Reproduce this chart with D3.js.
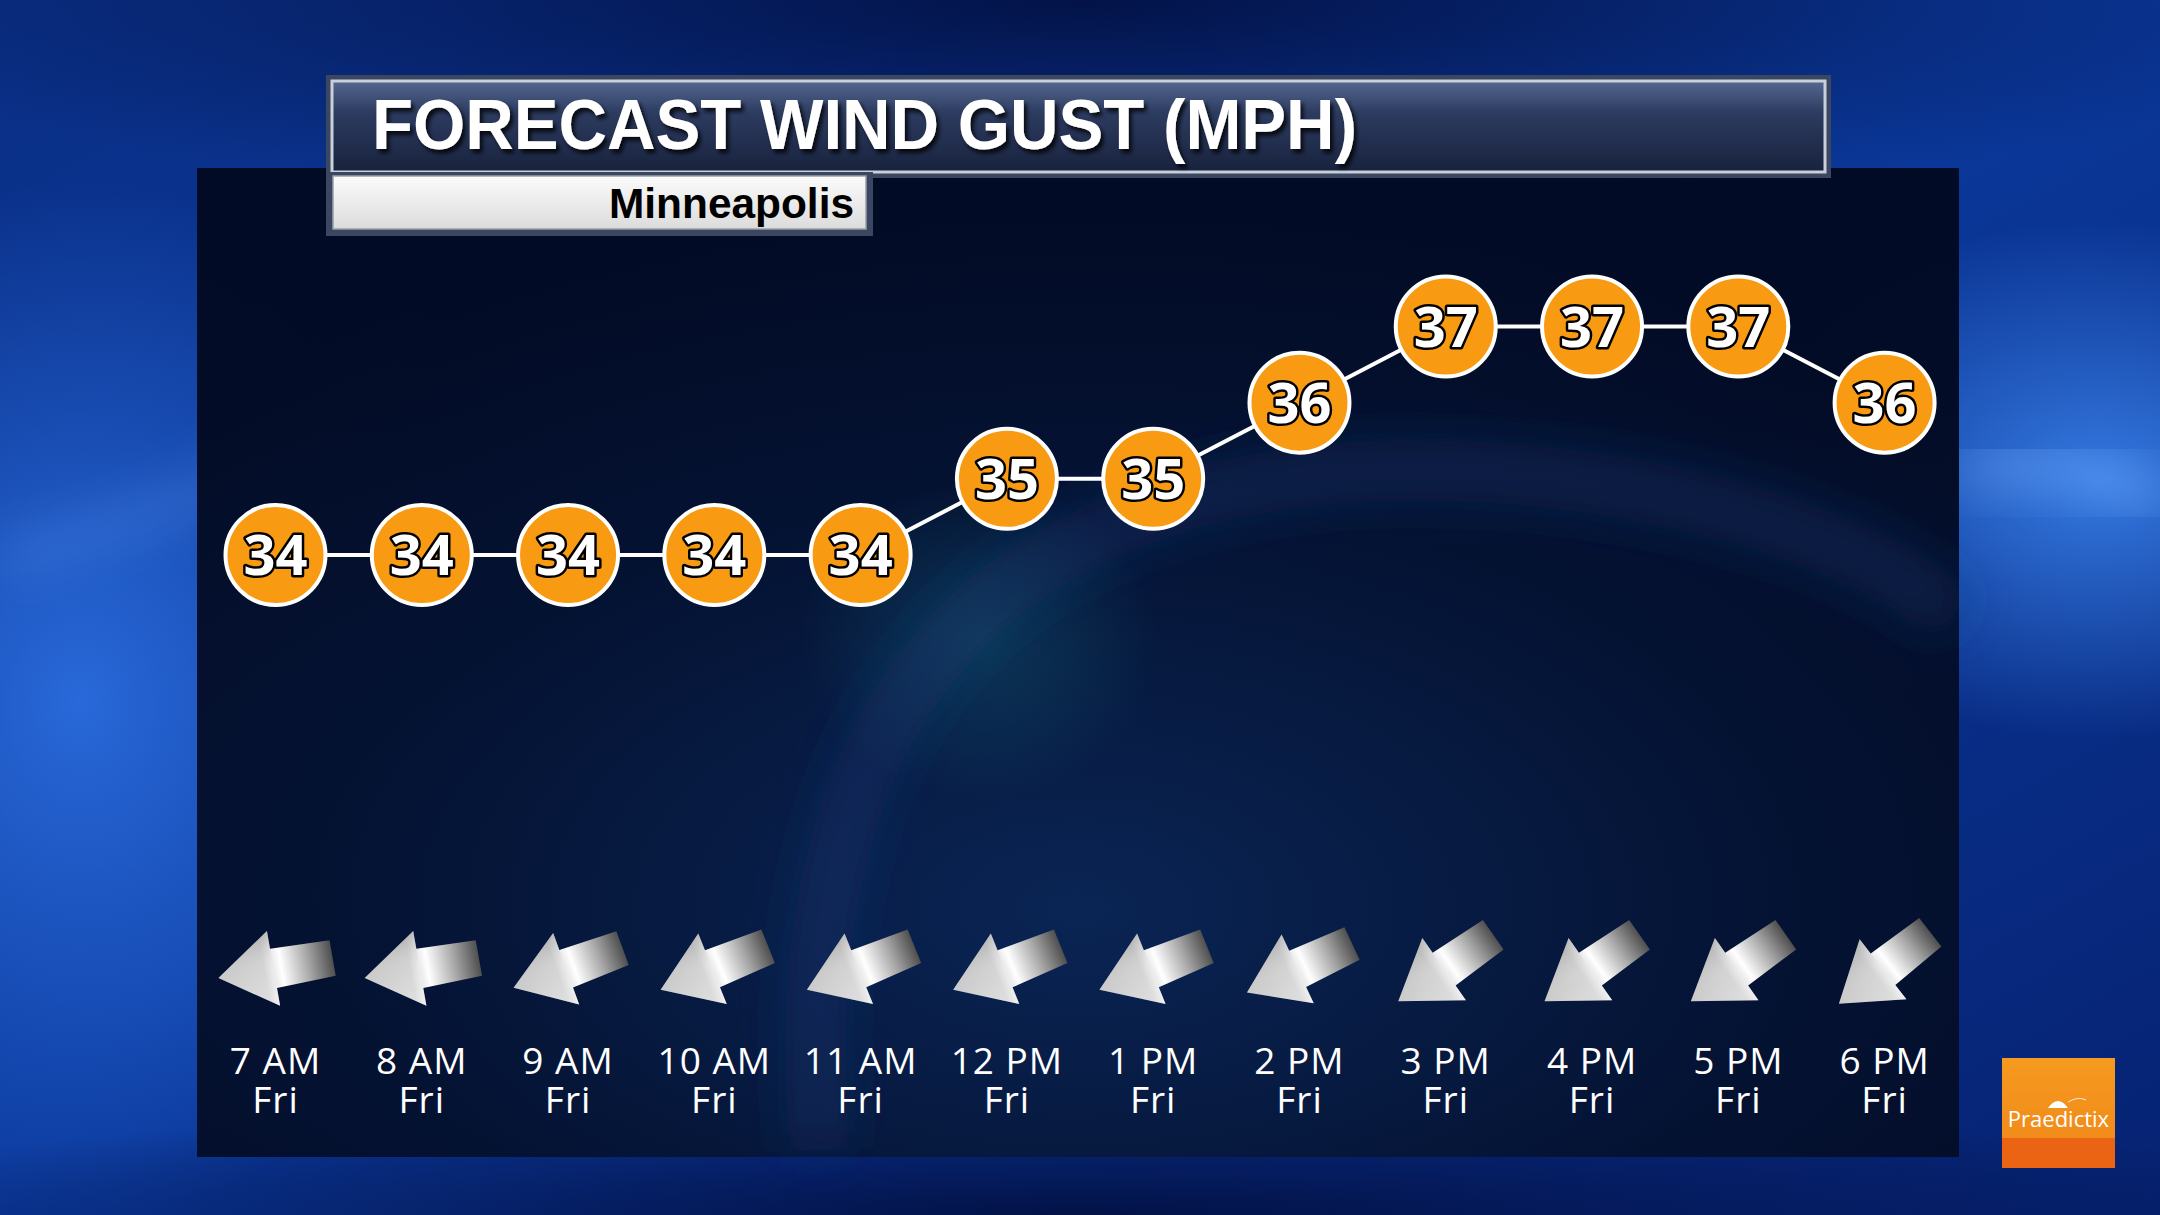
<!DOCTYPE html>
<html>
<head>
<meta charset="utf-8">
<script src="https://cdn.jsdelivr.net/npm/d3@7"></script>
<style>
  html, body { margin: 0; padding: 0; background: #06286f; overflow: hidden; }
  svg { display: block; }
</style>
</head>
<body>
<svg class="wind-chart"></svg>
<script>
var titleText = "FORECAST WIND GUST (MPH)";
var placeName = "Minneapolis";
var hours = ["7 AM", "8 AM", "9 AM", "10 AM", "11 AM", "12 PM", "1 PM", "2 PM", "3 PM", "4 PM", "5 PM", "6 PM"];
var days = ["Fri", "Fri", "Fri", "Fri", "Fri", "Fri", "Fri", "Fri", "Fri", "Fri", "Fri", "Fri"];
var gusts = [34, 34, 34, 34, 34, 35, 35, 36, 37, 37, 37, 36];
// compass direction the wind blows from (degrees)
var windFrom = [80, 80, 70, 68, 68, 68, 68, 65, 55, 55, 55, 52];

makeWindChart();

function makeWindChart() {
    var width = 2160, height = 1215;
    var panel = {left: 197, top: 168, right: 1959, bottom: 1157};

    var svg = d3.select(".wind-chart")
        .attr("width", width)
        .attr("height", height);

    var defs = svg.append("defs");

    // background gradients
    var bg = defs.append("linearGradient").attr("id", "bgGrad")
        .attr("x1", 0).attr("y1", 0).attr("x2", 1).attr("y2", 1);
    bg.append("stop").attr("offset", "0%").attr("stop-color", "#0a2f86");
    bg.append("stop").attr("offset", "45%").attr("stop-color", "#0b3a9e");
    bg.append("stop").attr("offset", "100%").attr("stop-color", "#062272");

    var glowL = defs.append("radialGradient").attr("id", "glowL");
    glowL.append("stop").attr("offset", "0%").attr("stop-color", "#2c6ee0").attr("stop-opacity", 0.9);
    glowL.append("stop").attr("offset", "100%").attr("stop-color", "#2c6ee0").attr("stop-opacity", 0);

    var glowR = defs.append("radialGradient").attr("id", "glowR");
    glowR.append("stop").attr("offset", "0%").attr("stop-color", "#3d86f0").attr("stop-opacity", 0.85);
    glowR.append("stop").attr("offset", "100%").attr("stop-color", "#3d86f0").attr("stop-opacity", 0);

    var dark = defs.append("radialGradient").attr("id", "darkTop");
    dark.append("stop").attr("offset", "0%").attr("stop-color", "#020f40").attr("stop-opacity", 0.9);
    dark.append("stop").attr("offset", "100%").attr("stop-color", "#020f40").attr("stop-opacity", 0);

    var panelGrad = defs.append("radialGradient").attr("id", "panelGrad")
        .attr("cx", "50%").attr("cy", "75%").attr("r", "70%");
    panelGrad.append("stop").attr("offset", "0%").attr("stop-color", "#0a2452");
    panelGrad.append("stop").attr("offset", "60%").attr("stop-color", "#04112f");
    panelGrad.append("stop").attr("offset", "100%").attr("stop-color", "#020a22");

    var panelGlow = defs.append("radialGradient").attr("id", "panelGlow");
    panelGlow.append("stop").attr("offset", "0%").attr("stop-color", "#10506a").attr("stop-opacity", 0.55);
    panelGlow.append("stop").attr("offset", "100%").attr("stop-color", "#10506a").attr("stop-opacity", 0);

    var titleGrad = defs.append("linearGradient").attr("id", "titleGrad")
        .attr("x1", 0).attr("y1", 0).attr("x2", 0).attr("y2", 1);
    titleGrad.append("stop").attr("offset", "0%").attr("stop-color", "#55688f");
    titleGrad.append("stop").attr("offset", "35%").attr("stop-color", "#2c3b60");
    titleGrad.append("stop").attr("offset", "100%").attr("stop-color", "#18223d");

    var subGrad = defs.append("linearGradient").attr("id", "subGrad")
        .attr("x1", 0).attr("y1", 0).attr("x2", 0).attr("y2", 1);
    subGrad.append("stop").attr("offset", "0%").attr("stop-color", "#fbfbfb");
    subGrad.append("stop").attr("offset", "100%").attr("stop-color", "#dcdcdc");

    // silver shading along the arrow: tail (left) dark, tip (right) light
    var silver = defs.append("linearGradient").attr("id", "silver")
        .attr("x1", 0).attr("y1", 0).attr("x2", 1).attr("y2", 0);
    silver.append("stop").attr("offset", "0%").attr("stop-color", "#4f4f4f");
    silver.append("stop").attr("offset", "22%").attr("stop-color", "#a9a9a9");
    silver.append("stop").attr("offset", "45%").attr("stop-color", "#ffffff");
    silver.append("stop").attr("offset", "60%").attr("stop-color", "#d0d0d0");
    silver.append("stop").attr("offset", "100%").attr("stop-color", "#c4c4c4");

    var headShade = defs.append("linearGradient").attr("id", "headShade")
        .attr("x1", 0).attr("y1", 0).attr("x2", 0).attr("y2", 1);
    headShade.append("stop").attr("offset", "0%").attr("stop-color", "#ffffff").attr("stop-opacity", 0.35);
    headShade.append("stop").attr("offset", "50%").attr("stop-color", "#ffffff").attr("stop-opacity", 0.1);
    headShade.append("stop").attr("offset", "100%").attr("stop-color", "#555555").attr("stop-opacity", 0.3);

    var logoGrad = defs.append("linearGradient").attr("id", "logoGrad")
        .attr("x1", 0).attr("y1", 0).attr("x2", 0).attr("y2", 1);
    logoGrad.append("stop").attr("offset", "0%").attr("stop-color", "#f59a1f");
    logoGrad.append("stop").attr("offset", "100%").attr("stop-color", "#f0861a");

    var blur = defs.append("filter").attr("id", "blur")
        .attr("x", "-50%").attr("y", "-50%").attr("width", "200%").attr("height", "200%");
    blur.append("feGaussianBlur").attr("stdDeviation", 25);

    var shadow = defs.append("filter").attr("id", "shadow")
        .attr("x", "-10%").attr("y", "-20%").attr("width", "120%").attr("height", "140%");
    shadow.append("feDropShadow").attr("dx", 3).attr("dy", 4)
        .attr("stdDeviation", 2).attr("flood-color", "#000").attr("flood-opacity", 0.8);

    // outer background
    svg.append("rect").attr("width", width).attr("height", height).attr("fill", "url(#bgGrad)");
    svg.append("ellipse").attr("cx", 80).attr("cy", 700).attr("rx", 420).attr("ry", 520)
        .attr("fill", "url(#glowL)");
    svg.append("ellipse").attr("cx", 2100).attr("cy", 480).attr("rx", 380).attr("ry", 260)
        .attr("fill", "url(#glowR)");
    svg.append("ellipse").attr("cx", 1080).attr("cy", 0).attr("rx", 1300).attr("ry", 220)
        .attr("fill", "url(#darkTop)");
    svg.append("ellipse").attr("cx", 1080).attr("cy", 1215).attr("rx", 1300).attr("ry", 120)
        .attr("fill", "url(#darkTop)");
    // light swirl streaks
    svg.append("path")
        .attr("d", "M0,560 C150,520 300,470 420,330")
        .attr("fill", "none").attr("stroke", "#5a9af5").attr("stroke-width", 30)
        .attr("stroke-opacity", 0.35).attr("filter", "url(#blur)");
    svg.append("path")
        .attr("d", "M1960,470 C2040,460 2110,470 2160,500")
        .attr("fill", "none").attr("stroke", "#7ab2ff").attr("stroke-width", 40)
        .attr("stroke-opacity", 0.45).attr("filter", "url(#blur)");

    // chart panel
    svg.append("rect")
        .attr("x", panel.left).attr("y", panel.top)
        .attr("width", panel.right - panel.left).attr("height", panel.bottom - panel.top)
        .attr("fill", "url(#panelGrad)").attr("fill-opacity", 0.97);
    svg.append("ellipse").attr("cx", 980).attr("cy", 640).attr("rx", 180).attr("ry", 160)
        .attr("fill", "url(#panelGlow)");
    svg.append("path")
        .attr("d", "M820,1150 C780,700 1000,480 1400,470 C1700,470 1900,560 1955,620")
        .attr("fill", "none").attr("stroke", "#1a3f7a").attr("stroke-width", 60)
        .attr("stroke-opacity", 0.35).attr("filter", "url(#blur)");

    // title bar
    svg.append("rect")
        .attr("x", 326).attr("y", 75).attr("width", 1505).attr("height", 103)
        .attr("fill", "#3b4760");
    svg.append("rect")
        .attr("x", 332).attr("y", 81).attr("width", 1493).attr("height", 91)
        .attr("fill", "url(#titleGrad)")
        .attr("stroke", "#c9cfdb").attr("stroke-width", 3);
    svg.append("text")
        .attr("x", 372).attr("y", 149)
        .attr("font-family", "'Liberation Sans', Arial, sans-serif")
        .attr("font-weight", "bold")
        .attr("font-size", 70)
        .attr("textLength", 985)
        .attr("lengthAdjust", "spacingAndGlyphs")
        .attr("fill", "#ffffff")
        .attr("filter", "url(#shadow)")
        .text(titleText);

    // location box
    svg.append("rect")
        .attr("x", 326).attr("y", 172).attr("width", 547).attr("height", 64)
        .attr("fill", "#3b4760");
    svg.append("rect")
        .attr("x", 333).attr("y", 176).attr("width", 533).attr("height", 53)
        .attr("fill", "url(#subGrad)")
        .attr("stroke", "#9aa0aa").attr("stroke-width", 1.5);
    svg.append("text")
        .attr("x", 854).attr("y", 218)
        .attr("text-anchor", "end")
        .attr("font-family", "'Liberation Sans', Arial, sans-serif")
        .attr("font-weight", "bold")
        .attr("font-size", 42)
        .attr("textLength", 245)
        .attr("lengthAdjust", "spacingAndGlyphs")
        .attr("fill", "#000")
        .text(placeName);

    // scales
    var x = d3.scalePoint()
        .domain(hours)
        .range([275.5, 1884.6]);
    var y = d3.scaleLinear()
        .domain([34, 37])
        .range([555, 326.5]);

    var points = hours.map(function(h, i) {
        return {hour: h, day: days[i], gust: gusts[i], from: windFrom[i]};
    });

    var line = d3.line()
        .x(function(d) { return x(d.hour); })
        .y(function(d) { return y(d.gust); });

    svg.append("path")
        .datum(points)
        .attr("fill", "none")
        .attr("stroke", "#ffffff")
        .attr("stroke-width", 4)
        .attr("d", line);

    var dots = svg.selectAll(".dot")
        .data(points)
        .enter().append("g")
        .attr("class", "dot")
        .attr("transform", function(d) { return "translate(" + x(d.hour) + "," + y(d.gust) + ")"; });

    dots.append("circle")
        .attr("r", 50)
        .attr("fill", "#f89a12")
        .attr("stroke", "#ffffff")
        .attr("stroke-width", 4);

    dots.append("text")
        .attr("text-anchor", "middle")
        .attr("dy", 20)
        .attr("font-family", "'Noto Sans', 'Open Sans', sans-serif")
        .attr("font-weight", "bold")
        .attr("font-size", 56)
        .attr("fill", "#ffffff")
        .attr("stroke", "#000000")
        .attr("stroke-width", 5)
        .attr("stroke-linejoin", "round")
        .attr("paint-order", "stroke")
        .text(function(d) { return d.gust; });

    // wind arrows (shape drawn pointing right, then rotated)
    var arrowShape = "M-58,-18 L2,-20 L2,-38 L58,0 L2,38 L2,20 L-58,18 Z";
    var headShape = "M2,-38 L58,0 L2,38 Z";
    var arrowY = 968;

    var arrows = svg.selectAll(".arrow")
        .data(points)
        .enter().append("g")
        .attr("class", "arrow")
        .attr("transform", function(d) {
            // arrow points where the wind blows to; screen 0deg = east
            var toward = d.from + 180;
            var screenAngle = toward - 90;
            return "translate(" + x(d.hour) + "," + arrowY + ") rotate(" + screenAngle + ")";
        });

    arrows.append("path")
        .attr("d", arrowShape)
        .attr("fill", "url(#silver)");

    arrows.append("path")
        .attr("d", headShape)
        .attr("fill", "url(#headShade)");

    // hour labels
    svg.selectAll(".hour-label")
        .data(points)
        .enter().append("text")
        .attr("class", "hour-label")
        .attr("x", function(d) { return x(d.hour); })
        .attr("y", 1074)
        .attr("text-anchor", "middle")
        .attr("font-family", "'Open Sans', 'Noto Sans', sans-serif")
        .attr("font-size", 37)
        .attr("fill", "#ffffff")
        .attr("letter-spacing", 1)
        .text(function(d) { return d.hour; });

    svg.selectAll(".day-label")
        .data(points)
        .enter().append("text")
        .attr("class", "day-label")
        .attr("x", function(d) { return x(d.hour); })
        .attr("y", 1113)
        .attr("text-anchor", "middle")
        .attr("font-family", "'Open Sans', 'Noto Sans', sans-serif")
        .attr("font-size", 37)
        .attr("fill", "#ffffff")
        .attr("letter-spacing", 1)
        .text(function(d) { return d.day; });

    // logo
    var logo = svg.append("g").attr("transform", "translate(2002,1058)");
    logo.append("rect").attr("width", 113).attr("height", 110).attr("fill", "url(#logoGrad)");
    logo.append("rect").attr("y", 80).attr("width", 113).attr("height", 30).attr("fill", "#ea6413");
    logo.append("path")
        .attr("d", "M46,50 Q56,36 66,50 Z")
        .attr("fill", "#ffffff");
    logo.append("path")
        .attr("d", "M66,44 Q76,38 84,42")
        .attr("fill", "none").attr("stroke", "#ffffff").attr("stroke-width", 0.8);
    logo.append("text")
        .attr("x", 56.5).attr("y", 69)
        .attr("text-anchor", "middle")
        .attr("font-family", "'Open Sans', sans-serif")
        .attr("font-size", 22)
        .attr("fill", "#ffffff")
        .text("Praedictix");
}
</script>
</body>
</html>
